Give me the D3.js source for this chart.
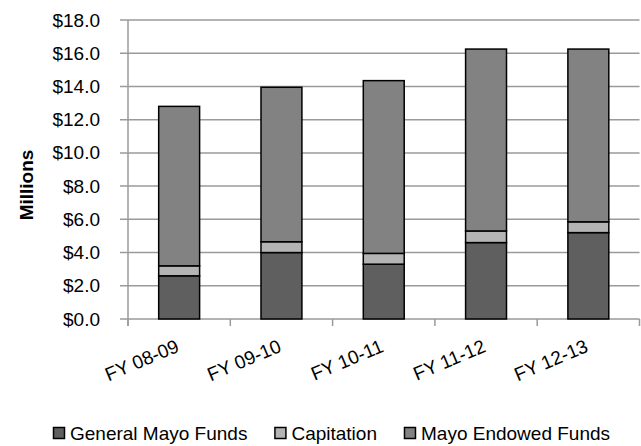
<!DOCTYPE html>
<html>
<head>
<meta charset="utf-8">
<script src="https://cdn.jsdelivr.net/npm/d3@7"></script>
<style>
  body { margin: 0; background: #fff; }
  text { font-family: "Liberation Sans", Arial, sans-serif; }
</style>
</head>
<body>
<div id="chart"></div>
<script>
// values in millions
var years = ["FY 08-09", "FY 09-10", "FY 10-11", "FY 11-12", "FY 12-13"];
var generalFunds = [2.6, 4.0, 3.3, 4.6, 5.2];
var capitation = [0.6, 0.65, 0.65, 0.7, 0.65];
var endowedFunds = [9.6, 9.3, 10.4, 10.95, 10.4];
var yTicks = [0, 2, 4, 6, 8, 10, 12, 14, 16, 18];

var seriesNames = ["General Mayo Funds", "Capitation", "Mayo Endowed Funds"];
var seriesColors = ["#5f5f5f", "#b4b4b4", "#828282"];

var svgWidth = 641;
var svgHeight = 446;

var margin = {
  top: 20,
  right: 1.5,
  bottom: 127,
  left: 128
};

var height = svgHeight - margin.top - margin.bottom;
var width = svgWidth - margin.left - margin.right;

var svg = d3.select("#chart")
            .append("svg")
                .attr("height", svgHeight)
                .attr("width", svgWidth);

var chartGroup = svg.append("g")
                    .attr("transform", `translate(${margin.left}, ${margin.top})`);

var table = years.map(function(y, i) {
    return { year: y, general: generalFunds[i], capitation: capitation[i], endowed: endowedFunds[i] };
});
var keys = ["general", "capitation", "endowed"];
var stacked = d3.stack().keys(keys)(table);

var xScale = d3.scaleBand()
    .domain(years)
    .range([0, width])
    .paddingInner(0.6)
    .paddingOuter(0.3);

var yScale = d3.scaleLinear()
    .domain([0, 18])
    .range([height, 0]);

// gridlines
chartGroup.selectAll("line.grid")
    .data(yTicks)
    .enter().append("line")
    .attr("class", "grid")
    .attr("x1", -8)
    .attr("x2", width)
    .attr("y1", d => yScale(d))
    .attr("y2", d => yScale(d))
    .attr("stroke", "#9a9a9a")
    .attr("stroke-width", 1.5);

// y axis
var leftAxis = d3.axisLeft(yScale)
    .tickValues(yTicks)
    .tickSize(0)
    .tickPadding(28)
    .tickFormat(d => "$" + d.toFixed(1));

var yAxis = chartGroup.append("g").call(leftAxis);
yAxis.select(".domain").remove();
yAxis.selectAll("text")
    .style("font-size", "19px")
    .attr("fill", "#000");

chartGroup.append("line")
    .attr("x1", 0).attr("x2", 0)
    .attr("y1", 0).attr("y2", height + 7)
    .attr("stroke", "#9a9a9a")
    .attr("stroke-width", 1.5);

// x axis ticks at band boundaries
var step = xScale.step();
var boundaries = d3.range(years.length + 1);
chartGroup.selectAll("line.xtick")
    .data(boundaries)
    .enter().append("line")
    .attr("class", "xtick")
    .attr("x1", d => d * step)
    .attr("x2", d => d * step)
    .attr("y1", height)
    .attr("y2", height + 7)
    .attr("stroke", "#9a9a9a")
    .attr("stroke-width", 1.5);

// bars
var layers = chartGroup.selectAll("g.layer")
    .data(stacked)
    .enter().append("g")
    .attr("class", "layer")
    .attr("fill", (d, i) => seriesColors[i]);

layers.selectAll("rect")
    .data(d => d)
    .enter().append("rect")
    .attr("x", d => xScale(d.data.year))
    .attr("width", xScale.bandwidth())
    .attr("y", d => yScale(d[1]))
    .attr("height", d => yScale(d[0]) - yScale(d[1]))
    .attr("stroke", "#000")
    .attr("stroke-width", 1.5);

// category labels
chartGroup.selectAll("text.cat")
    .data(years)
    .enter().append("text")
    .attr("class", "cat")
    .attr("text-anchor", "end")
    .attr("transform", d => `translate(${xScale(d) + xScale.bandwidth() / 2 + 1}, ${height + 32}) rotate(-23)`)
    .style("font-size", "19px")
    .text(d => d);

// y label
svg.append("text")
    .attr("transform", "translate(33, 185) rotate(-90)")
    .attr("text-anchor", "middle")
    .style("font-size", "19px")
    .style("font-weight", "bold")
    .text("Millions");

// legend
var legend = svg.append("g").attr("transform", "translate(53, 440)");
var lx = 0;
seriesNames.forEach(function(name, i) {
    var item = legend.append("g").attr("transform", `translate(${lx}, 0)`);
    item.append("rect")
        .attr("x", 0.5)
        .attr("y", -12.5)
        .attr("width", 11)
        .attr("height", 11)
        .attr("fill", seriesColors[i])
        .attr("stroke", "#000")
        .attr("stroke-width", 1.5);
    var t = item.append("text")
        .attr("x", 17)
        .attr("y", 0)
        .style("font-size", "19px")
        .text(name);
    lx += 17 + t.node().getComputedTextLength() + 27;
});
</script>
</body>
</html>
